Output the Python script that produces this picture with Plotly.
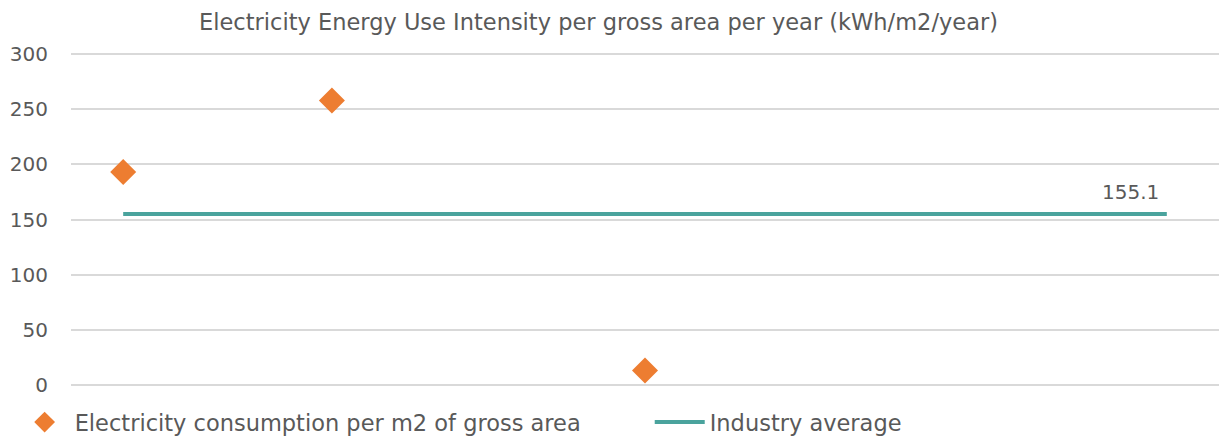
import plotly.graph_objects as go

# Category slots along the x axis (unlabelled)
categories = list(range(11))

# Electricity consumption per m2 of gross area (only some slots have data)
consumption_x = [0, 2, 5]
consumption_y = [193.2, 258.1, 12.9]

# Industry average reference line
industry_avg = 155.1
industry_x = categories
industry_y = [industry_avg] * len(categories)

y_ticks = [0, 50, 100, 150, 200, 250, 300]

FONT = "DejaVu Sans"
GREY = "#595959"
ORANGE = "#ED7D31"
TEAL = "#4AA39D"

fig = go.Figure()

fig.add_trace(go.Scatter(
    x=consumption_x, y=consumption_y,
    mode="markers",
    name="Electricity consumption per m2 of gross area",
    marker=dict(symbol="diamond", size=20, color=ORANGE),
    legend="legend",
))

fig.add_trace(go.Scatter(
    x=industry_x, y=industry_y,
    mode="lines",
    name="Industry average",
    line=dict(color=TEAL, width=4),
    legend="legend2",
))

# value label at the right end of the average line
fig.add_annotation(
    x=industry_x[-1], y=industry_y[-1], text=f"{industry_avg}",
    showarrow=False, xanchor="center", yanchor="bottom",
    xshift=-36, yshift=8,
    font=dict(family=FONT, size=20, color=GREY),
)

legend_common = dict(
    orientation="h", xanchor="left", xref="container",
    y=0.04, yanchor="middle", yref="container",
    font=dict(family=FONT, size=22.5, color=GREY),
    itemwidth=50,
    bgcolor="rgba(0,0,0,0)",
)

fig.update_layout(
    width=1219, height=440,
    margin=dict(l=71, r=0, t=52, b=53, autoexpand=False),
    paper_bgcolor="white",
    plot_bgcolor="white",
    font=dict(family=FONT, size=20, color=GREY),
    title=dict(
        text="Electricity Energy Use Intensity per gross area per year (kWh/m2/year)",
        x=0.491, xanchor="center", y=0.95, yanchor="middle",
        font=dict(family=FONT, size=22.5, color=GREY),
    ),
    xaxis=dict(
        range=[-0.5, 10.5], showticklabels=False, showgrid=False,
        zeroline=False, showline=False, ticks="",
    ),
    yaxis=dict(
        range=[-2, 302], tickvals=y_ticks, showgrid=True,
        gridcolor="#D9D9D9", gridwidth=2, zeroline=False, showline=False,
        ticks="", ticklabelstandoff=22,
        tickfont=dict(family=FONT, size=20, color=GREY),
    ),
    showlegend=True,
    legend=dict(x=0.012, **legend_common),
    legend2=dict(x=0.533, **legend_common),
)

fig.write_html("out.html")
